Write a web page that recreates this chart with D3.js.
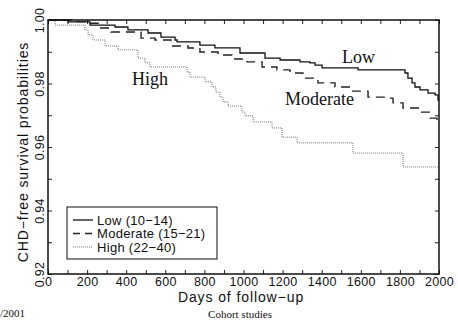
<!DOCTYPE html>
<html>
<head>
<meta charset="utf-8">
<script src="https://cdn.jsdelivr.net/npm/d3@7"></script>
<style>
body { margin: 0; background: #fff; }
text { font-family: "Liberation Sans", Arial, sans-serif; fill: #111; }
.serif { font-family: "Liberation Serif", "Times New Roman", serif; }
</style>
</head>
<body>
<div id="chart-area"></div>
<script>
// Kaplan-Meier style step data: [day, survival]
var lowData = [[0,1.0],[102,0.9994],[215,0.9984],[343,0.9978],[409,0.9969],[512,0.9959],[578,0.9946],
  [650,0.9937],[660,0.9931],[777,0.9921],[854,0.9912],[982,0.9896],[1110,0.988],[1187,0.9874],
  [1289,0.9868],[1340,0.9865],[1366,0.9858],[1402,0.9849],[1586,0.9843],[1826,0.9833],[1841,0.9817],
  [1862,0.9802],[1877,0.9789],[1903,0.978],[1944,0.977],[1980,0.9764],[1995,0.9748],[2000,0.9748]];
var moderateData = [[0,1.0],[120,0.9995],[200,0.999],[266,0.9975],[322,0.9962],[476,0.9943],[547,0.9937],
  [629,0.9918],[716,0.9912],[777,0.9899],[870,0.989],[941,0.9877],[1018,0.9868],[1095,0.9852],
  [1171,0.9843],[1238,0.9833],[1304,0.9817],[1381,0.9802],[1468,0.9789],[1545,0.9776],[1637,0.9757],
  [1724,0.9754],[1765,0.9739],[1816,0.9723],[1903,0.971],[1954,0.9691],[1990,0.9679],[2000,0.9679]];
var highData = [[0,1.0],[36,0.9984],[189,0.9969],[205,0.9953],[230,0.9937],[292,0.9918],[358,0.9906],
  [460,0.988],[496,0.9865],[522,0.9852],[711,0.9836],[726,0.982],[803,0.9805],[839,0.9789],[859,0.9773],
  [880,0.9757],[895,0.9742],[921,0.9729],[992,0.971],[1008,0.9698],[1049,0.9679],[1146,0.966],
  [1197,0.9631],[1274,0.9613],[1560,0.9581],[1816,0.9537],[2000,0.9537]];

var xTicks = d3.range(0, 2001, 100);
var xLabels = [0,200,400,600,800,1000,1200,1400,1600,1800,2000];
var yTicks = [0.92,0.93,0.94,0.95,0.96,0.97,0.98,0.99,1.00];
var yLabels = [0.92,0.94,0.96,0.98,1.00];
var legendNames = ["Low (10\u221214)", "Moderate (15\u221221)", "High (22\u221240)"];
var curveNames = ["Low", "Moderate", "High"];

var width = 458, height = 322;
var margin = {top: 20, right: 19, bottom: 48, left: 48};
var w = width - margin.left - margin.right;
var h = height - margin.top - margin.bottom;

var svg = d3.select("#chart-area").append("svg")
  .attr("width", width)
  .attr("height", height);

var x = d3.scaleLinear().domain([0,2000]).range([margin.left, margin.left + w]);
var y = d3.scaleLinear().domain([0.92,1.0]).range([margin.top + h, margin.top]);

// inward ticks on all four sides
var bottomAxis = d3.axisBottom(x).tickValues(xTicks).tickSize(-4)
  .tickFormat((d)=>{ return xLabels.indexOf(d) >= 0 ? d : ""; });
var gx = svg.append("g").attr("transform", "translate(0," + (margin.top + h) + ")").call(bottomAxis);
gx.select(".domain").remove();
gx.selectAll("text").attr("y", 12).attr("dy", 0)
  .attr("font-size", "12.5px").attr("fill", "#111").attr("letter-spacing", "0.3px")
  .style("font-family", "'Liberation Sans', Arial, sans-serif");

var topAxis = d3.axisTop(x).tickValues(xTicks).tickSize(-4).tickFormat("");
var gt = svg.append("g").attr("transform", "translate(0," + margin.top + ")").call(topAxis);
gt.select(".domain").remove();

var leftAxis = d3.axisLeft(y).tickValues(yTicks).tickSize(-4)
  .tickFormat((d)=>{ return yLabels.some((v)=>Math.abs(v-d)<1e-9) ? d3.format(".2f")(d) : ""; });
var gy = svg.append("g").attr("transform", "translate(" + margin.left + ",0)").call(leftAxis);
gy.select(".domain").remove();
gy.selectAll("text")
  .attr("x", 0).attr("y", 0).attr("dy", 0)
  .attr("text-anchor", "middle")
  .attr("transform", "translate(-4,0) rotate(-90)")
  .attr("font-size", "12.5px").attr("fill", "#111").attr("letter-spacing", "0.3px")
  .style("font-family", "'Liberation Sans', Arial, sans-serif");

var rightAxis = d3.axisRight(y).tickValues(yTicks).tickSize(-4).tickFormat("");
var gr = svg.append("g").attr("transform", "translate(" + (margin.left + w) + ",0)").call(rightAxis);
gr.select(".domain").remove();

svg.selectAll(".tick line").attr("stroke", "#222").attr("stroke-width", 1);

// curves
var line = d3.line()
  .x((d)=>{ return x(d[0]); })
  .y((d)=>{ return y(d[1]); })
  .curve(d3.curveStepAfter);

var styles = [
  {data: lowData, width: 1.3, color: "#111", dash: null},
  {data: moderateData, width: 1.4, color: "#222", dash: "9,6"},
  {data: highData, width: 1, color: "#777", dash: "1,1"}
];
styles.forEach((s)=>{
  svg.append("path")
    .attr("d", line(s.data))
    .attr("fill", "none")
    .attr("stroke", s.color)
    .attr("stroke-width", s.width)
    .attr("stroke-dasharray", s.dash);
});

// frame
svg.append("rect")
  .attr("x", margin.left).attr("y", margin.top)
  .attr("width", w).attr("height", h)
  .attr("fill", "none").attr("stroke", "#111").attr("stroke-width", 1.5);

// curve labels
var labelPos = [[342, 63], [285, 105], [132, 85]];
curveNames.forEach((n, i)=>{
  svg.append("text").attr("class", "serif")
    .attr("x", labelPos[i][0]).attr("y", labelPos[i][1])
    .attr("font-size", "18px")
    .text(n);
});

// axis titles
svg.append("text")
  .attr("x", 241).attr("y", 301.5)
  .attr("text-anchor", "middle")
  .attr("font-size", "14px")
  .attr("letter-spacing", "0.9px")
  .text("Days of follow\u2212up");
svg.append("text")
  .attr("transform", "translate(28,152) rotate(-90)")
  .attr("text-anchor", "middle")
  .attr("font-size", "14px")
  .attr("letter-spacing", "0.9px")
  .text("CHD\u2212free survival probabilities");

// legend
var legend = svg.append("g");
legend.append("rect")
  .attr("x", 67).attr("y", 207).attr("width", 150).attr("height", 52)
  .attr("fill", "#fff").attr("stroke", "#111").attr("stroke-width", 1);
legendNames.forEach((n, i)=>{
  var ly = 220 + i * 13.5;
  legend.append("line")
    .attr("x1", 73).attr("x2", 93).attr("y1", ly).attr("y2", ly)
    .attr("stroke", styles[i].color).attr("stroke-width", styles[i].width)
    .attr("stroke-dasharray", i === 1 ? "7,5" : styles[i].dash);
  legend.append("text")
    .attr("x", 97).attr("y", ly + 4.5)
    .attr("font-size", "13px")
    .attr("letter-spacing", "0.3px")
    .text(n);
});

// page footer bits
svg.append("text").attr("class", "serif")
  .attr("x", 240).attr("y", 318).attr("text-anchor", "middle")
  .attr("font-size", "11px").text("Cohort studies");
svg.append("text").attr("class", "serif")
  .attr("x", 0).attr("y", 317)
  .attr("font-size", "11px").text("/2001");
</script>
</body>
</html>
